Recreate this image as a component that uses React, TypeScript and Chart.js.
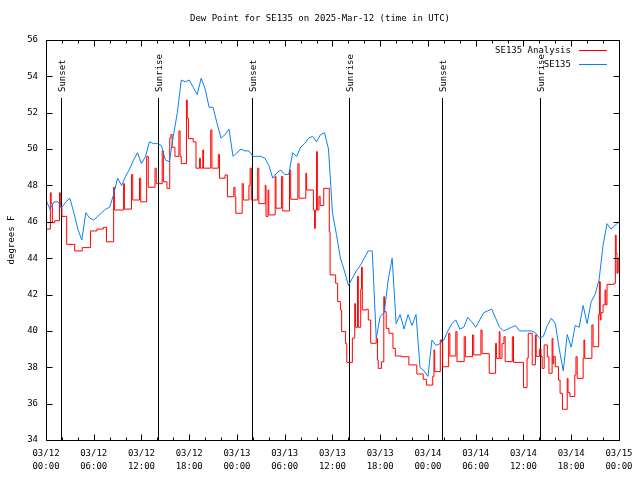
import React, { useEffect, useRef } from "react";
import { Chart, registerables } from "chart.js";

Chart.register(...registerables);

// ---------- data ----------
const TITLE = "Dew Point for SE135 on 2025-Mar-12 (time in UTC)";
const Y_AXIS_LABEL = "degrees F";
const SERIES_NAMES = ["SE135 Analysis", "SE135"];
const SERIES_COLORS = ["#ff0000", "#0a80f0"];

// x axis: hours since 03/12 00:00 UTC
const X_MIN = 0;
const X_MAX = 72;
const X_TICK_LABELS: string[][] = [
  ["03/12", "00:00"], ["03/12", "06:00"], ["03/12", "12:00"], ["03/12", "18:00"],
  ["03/13", "00:00"], ["03/13", "06:00"], ["03/13", "12:00"], ["03/13", "18:00"],
  ["03/14", "00:00"], ["03/14", "06:00"], ["03/14", "12:00"], ["03/14", "18:00"],
  ["03/15", "00:00"],
];
const Y_MIN = 34;
const Y_MAX = 56;

// sunrise / sunset markers (hours)
const EVENT_NAMES = ["Sunset", "Sunrise", "Sunset", "Sunrise", "Sunset", "Sunrise"];
const EVENT_HOURS = [1.87, 14.12, 25.83, 38.08, 49.8, 62.04];

// SE135 observations, every half hour starting at 03/12 00:00
const OBS_STEP_HOURS = 0.5;
const OBS_VALUES = [
  47.2, 46.7, 47.1, 47.1, 46.8, 47.1, 47.3, 46.5, 45.6, 45.0,
  46.5, 46.2, 46.1, 46.3, 46.5, 46.7, 46.8, 47.5, 48.4, 48.0,
  48.5, 48.9, 49.4, 49.8, 49.2, 49.6, 50.4, 50.3, 50.3, 50.2,
  49.4, 49.3, 50.7, 52.0, 53.8, 53.7, 53.8, 53.4, 53.0, 53.9,
  53.3, 52.3, 52.3, 51.4, 50.6, 50.8, 51.1, 49.6, 49.8, 50.0,
  49.9, 49.9, 49.6, 49.6, 49.6, 49.5, 49.1, 48.4, 48.7, 48.85,
  48.6, 48.6, 49.8, 49.6, 50.1, 50.3, 50.6, 50.7, 50.4, 50.8,
  50.9, 50.0, 46.5, 45.3, 44.0, 43.3, 42.5, 42.9, 43.3, 43.6,
  44.0, 44.4, 44.4, 39.6, 40.8, 41.0, 42.8, 44.0, 40.4, 40.9,
  40.1, 40.9, 40.3, 40.9, 38.0, 37.8, 37.5, 39.5, 39.2, 39.3,
  39.5, 40.0, 40.4, 40.6, 40.1, 40.2, 40.75, 40.5, 40.2, 40.6,
  41.0, 41.1, 41.2, 40.7, 40.2, 40.0, 40.1, 40.2, 40.3, 40.0,
  40.0, 40.0, 40.0, 39.9, 39.6, 39.7, 40.3, 40.7, 40.4, 39.0,
  37.8, 39.8, 39.1, 40.3, 40.2, 41.4, 40.4, 41.6, 42.0, 42.8,
  44.7, 45.9, 45.6, 45.8, 46.0,
];

// SE135 Analysis: [hour, value], value held until the next hour listed
const ANALYSIS_POINTS: [number, number][] = [
  [0, 45.6], [0.55, 47.6], [0.65, 47.0], [0.8, 45.95], [1.1, 46.06], [1.7, 47.6],
  [1.8, 46.8], [2.0, 46.3], [2.6, 44.76], [3.6, 44.4], [4.55, 44.58], [5.6, 45.5],
  [6.4, 45.6], [7.2, 45.7], [7.6, 44.9], [8.5, 47.9], [8.6, 46.65], [9.75, 48.1],
  [9.85, 46.7], [10.75, 48.6], [10.9, 47.2], [11.75, 48.4], [11.9, 47.1], [12.65, 49.6],
  [12.85, 47.9], [13.7, 48.95], [13.85, 48.1], [14.6, 49.9], [14.75, 48.2], [15.2, 47.84],
  [15.55, 50.6], [15.7, 50.8], [15.85, 50.1], [16.2, 49.6], [16.7, 51.0], [16.85, 49.6],
  [17.0, 49.2], [17.65, 52.7], [17.75, 51.7], [17.9, 50.58], [18.5, 50.4], [18.85, 48.95],
  [19.3, 49.5], [19.4, 48.95], [19.7, 49.95], [19.8, 48.95], [20.7, 51.05], [20.85, 48.95],
  [21.65, 49.7], [21.8, 48.4], [22.5, 48.58], [22.8, 47.38], [23.6, 47.9], [23.75, 47.38],
  [23.85, 46.47], [24.65, 48.1], [24.8, 47.2], [25.5, 48.0], [25.65, 48.95], [25.8, 47.2],
  [26.6, 48.95], [26.75, 47.0], [27.55, 48.0], [27.65, 46.3], [27.9, 47.75], [28.0, 46.38],
  [28.8, 48.5], [28.9, 46.75], [29.6, 48.5], [29.75, 46.6], [30.6, 48.85], [30.75, 47.24],
  [31.65, 49.2], [31.8, 47.3], [32.65, 48.67], [32.75, 47.75], [33.6, 46.65], [33.75, 45.64],
  [33.85, 46.65], [34.0, 49.86], [34.1, 46.65], [34.3, 47.4], [34.45, 46.9], [34.9, 47.84],
  [35.6, 45.46], [35.7, 43.08], [36.4, 42.62], [36.65, 41.61], [37.0, 41.15], [37.15, 39.96],
  [37.65, 39.3], [37.8, 38.27], [38.5, 39.6], [38.8, 41.5], [38.9, 40.2], [39.15, 43.0],
  [39.25, 40.2], [39.55, 42.3], [39.65, 43.5], [39.75, 41.15], [40.3, 41.19], [40.5, 40.6],
  [40.8, 39.32], [41.5, 39.59], [41.65, 38.4], [41.75, 37.94], [42.15, 38.3], [42.45, 41.88],
  [42.55, 41.06], [42.75, 40.14], [43.1, 39.87], [43.6, 39.04], [43.9, 38.62], [44.7, 38.58],
  [45.6, 38.13], [46.6, 37.63], [47.4, 37.34], [47.8, 37.02], [48.6, 37.5], [48.75, 38.95],
  [48.85, 37.76], [49.55, 39.5], [49.7, 39.4], [49.85, 38.03], [50.6, 39.87], [50.75, 38.62],
  [51.5, 39.96], [51.65, 38.31], [52.55, 39.68], [52.7, 38.58], [53.6, 39.78], [53.75, 38.68],
  [54.65, 40.05], [54.8, 38.75], [55.7, 37.67], [56.5, 39.32], [56.6, 38.49], [56.95, 39.96],
  [57.05, 38.49], [57.3, 39.3], [57.55, 39.68], [57.7, 38.31], [58.6, 39.68], [58.75, 38.27],
  [60.0, 36.88], [60.45, 38.5], [60.6, 39.87], [61.1, 38.13], [61.5, 39.78], [61.6, 38.6],
  [62.0, 39.0], [62.2, 38.6], [62.35, 37.94], [62.6, 39.23], [63.0, 38.58], [63.2, 37.67],
  [63.6, 39.59], [63.7, 38.2], [63.8, 38.6], [64.0, 38.03], [64.4, 37.3], [64.6, 36.57],
  [64.9, 35.69], [65.5, 37.39], [65.6, 36.6], [65.85, 36.39], [66.45, 37.58], [66.6, 38.58],
  [66.75, 37.39], [67.5, 38.49], [67.6, 39.5], [67.7, 38.49], [68.6, 40.33], [68.75, 39.13],
  [69.45, 40.88], [69.55, 42.71], [69.65, 40.6], [69.75, 41.0], [70.0, 41.43], [70.25, 42.25],
  [70.35, 41.43], [70.5, 42.56], [71.35, 42.62], [71.55, 45.27], [71.65, 44.27], [71.75, 43.17],
  [71.85, 44.0], [72, 43.2],
];

// ---------- styling ----------
const FONT = '"DejaVu Sans Mono", "Liberation Mono", monospace';
const FONT_SIZE = 9;

const gnuplotDecor = {
  id: "gnuplotDecor",
  beforeDatasetsDraw(chart: any) {
    const { ctx, chartArea: a, scales } = chart;
    const x = scales.x;
    ctx.save();
    ctx.strokeStyle = "#000";
    ctx.fillStyle = "#000";
    ctx.lineWidth = 1;
    ctx.font = `${FONT_SIZE}px ${FONT}`;
    EVENT_HOURS.forEach((h, i) => {
      const px = Math.round(x.getPixelForValue(h)) + 0.5;
      ctx.beginPath();
      ctx.moveTo(px, a.top + 58);
      ctx.lineTo(px, a.bottom);
      ctx.stroke();
      ctx.save();
      ctx.translate(px + 1, a.top + 52);
      ctx.rotate(-Math.PI / 2);
      ctx.textAlign = "left";
      ctx.textBaseline = "middle";
      ctx.fillText(EVENT_NAMES[i], 0, 0);
      ctx.restore();
    });
    ctx.restore();
  },
  afterDatasetsDraw(chart: any) {
    const { ctx, chartArea: a, scales } = chart;
    const x = scales.x;
    const y = scales.y;
    ctx.save();
    ctx.strokeStyle = "#000";
    ctx.lineWidth = 1;
    const L = Math.round(a.left) + 0.5;
    const R = Math.round(a.right) + 0.5;
    const T = Math.round(a.top) + 0.5;
    const B = Math.round(a.bottom) + 0.5;
    ctx.beginPath();
    ctx.rect(L, T, R - L, B - T);
    ctx.stroke();
    ctx.beginPath();
    x.ticks.forEach((t: any) => {
      const px = Math.round(x.getPixelForValue(t.value)) + 0.5;
      const len = t.value % 6 === 0 ? 6 : 3;
      ctx.moveTo(px, B);
      ctx.lineTo(px, B - len);
      ctx.moveTo(px, T);
      ctx.lineTo(px, T + len);
    });
    y.ticks.forEach((t: any) => {
      const py = Math.round(y.getPixelForValue(t.value)) + 0.5;
      ctx.moveTo(L, py);
      ctx.lineTo(L + 6, py);
      ctx.moveTo(R, py);
      ctx.lineTo(R - 6, py);
    });
    ctx.stroke();
    ctx.restore();
  },
  afterDraw(chart: any) {
    const { ctx, chartArea: a } = chart;
    ctx.save();
    ctx.fillStyle = "#000";
    ctx.font = `${FONT_SIZE}px ${FONT}`;
    // title
    ctx.textAlign = "center";
    ctx.textBaseline = "middle";
    ctx.fillText(TITLE, chart.width / 2, 19);
    // y axis title
    ctx.save();
    ctx.translate(12, (a.top + a.bottom) / 2);
    ctx.rotate(-Math.PI / 2);
    ctx.fillText(Y_AXIS_LABEL, 0, 0);
    ctx.restore();
    // key
    chart.data.datasets.forEach((ds: any, i: number) => {
      const ly = Math.round(a.top + 10 + i * 14) + 0.5;
      ctx.textAlign = "right";
      ctx.fillStyle = "#000";
      ctx.fillText(ds.label, a.right - 48, ly);
      ctx.strokeStyle = ds.borderColor;
      ctx.lineWidth = 1;
      ctx.beginPath();
      ctx.moveTo(a.right - 40, ly);
      ctx.lineTo(a.right - 12, ly);
      ctx.stroke();
    });
    ctx.restore();
  },
};

export default function App() {
  const canvasRef = useRef<HTMLCanvasElement | null>(null);

  useEffect(() => {
    document.body.style.margin = "0";
    const canvas = canvasRef.current;
    if (!canvas) return;
    const tickFont = { family: FONT, size: FONT_SIZE, lineHeight: 1.45 };
    const chart = new Chart(canvas, {
      type: "line",
      data: {
        datasets: [
          {
            label: SERIES_NAMES[0],
            data: ANALYSIS_POINTS.map(([h, v]) => ({ x: h, y: v })),
            borderColor: SERIES_COLORS[0],
            backgroundColor: SERIES_COLORS[0],
            borderWidth: 1,
            pointRadius: 0,
            stepped: "before",
            order: 1,
          },
          {
            label: SERIES_NAMES[1],
            data: OBS_VALUES.map((v, i) => ({ x: i * OBS_STEP_HOURS, y: v })),
            borderColor: SERIES_COLORS[1],
            backgroundColor: SERIES_COLORS[1],
            borderWidth: 1,
            pointRadius: 0,
            tension: 0,
            order: 0,
          },
        ],
      },
      options: {
        animation: false,
        responsive: false,
        maintainAspectRatio: false,
        layout: { padding: { top: 40, right: 18, left: 0, bottom: 0 } },
        plugins: {
          legend: { display: false },
          title: { display: false },
          tooltip: { enabled: false },
        },
        scales: {
          x: {
            type: "linear",
            min: X_MIN,
            max: X_MAX,
            grid: { display: false, drawTicks: false },
            border: { display: false },
            ticks: {
              stepSize: 2,
              autoSkip: false,
              maxRotation: 0,
              padding: 7.5,
              color: "#000",
              font: tickFont,
              callback: (v: any) => {
                const n = Number(v);
                return n % 6 === 0 ? X_TICK_LABELS[n / 6] : "";
              },
            },
            afterFit: (s: any) => {
              s.height = 40;
            },
          },
          y: {
            type: "linear",
            min: Y_MIN,
            max: Y_MAX,
            grid: { display: false, drawTicks: false },
            border: { display: false },
            ticks: {
              stepSize: 2,
              padding: 8,
              color: "#000",
              font: { family: FONT, size: FONT_SIZE },
            },
            afterFit: (s: any) => {
              s.width = 46;
            },
          },
        },
      },
      plugins: [gnuplotDecor],
    });
    return () => chart.destroy();
  }, []);

  return (
    <div style={{ position: "absolute", left: 0, top: 0, width: 640, height: 480, background: "#fff" }}>
      <canvas ref={canvasRef} width={640} height={480} style={{ display: "block" }} />
    </div>
  );
}
